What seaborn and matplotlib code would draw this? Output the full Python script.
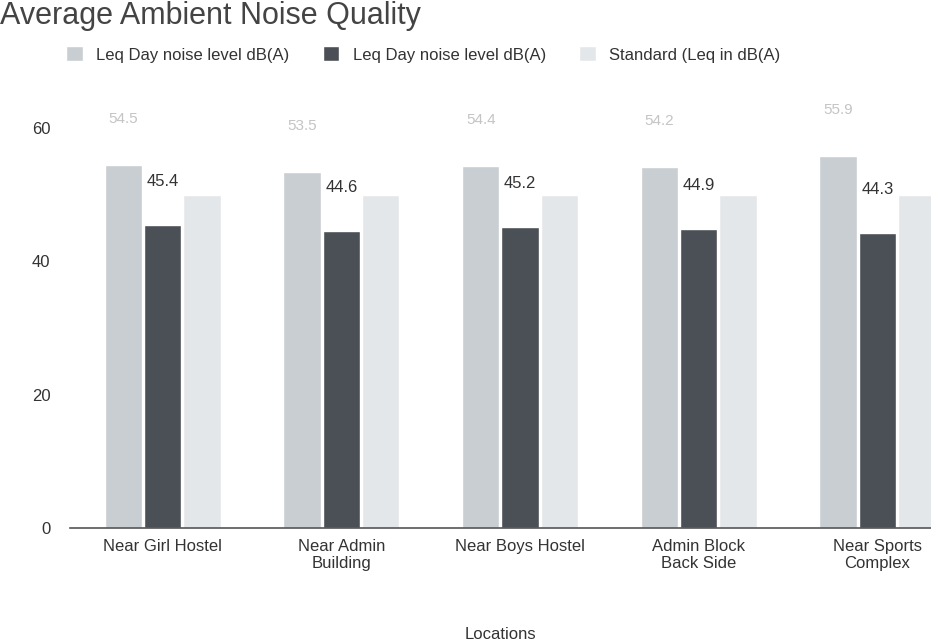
import matplotlib
matplotlib.use("Agg")
import matplotlib.pyplot as plt
import seaborn as sns
import pandas as pd

locations = ["Near Girl Hostel", "Near Admin\nBuilding", "Near Boys Hostel",
             "Admin Block\nBack Side", "Near Sports\nComplex"]
leq_day_a = [54.5, 53.5, 54.4, 54.2, 55.9]
leq_day_b = [45.4, 44.6, 45.2, 44.9, 44.3]
standard = [50, 50, 50, 50, 50]
series_keys = ["s1", "s2", "s3"]
legend_labels = ["Leq Day noise level dB(A)", "Leq Day noise level dB(A)", "Standard (Leq in dB(A)"]
colors = ["#c9ced2", "#4b5056", "#e4e7e9"]
y_ticks = [0, 20, 40, 60]

rows = []
for i, loc in enumerate(locations):
    rows.append((loc, series_keys[0], leq_day_a[i]))
    rows.append((loc, series_keys[1], leq_day_b[i]))
    rows.append((loc, series_keys[2], standard[i]))
df = pd.DataFrame(rows, columns=["Location", "Series", "Value"])

sns.set_theme(style="white")
plt.rcParams['font.family'] = ['Liberation Sans', 'DejaVu Sans']

fig = plt.figure(figsize=(9.31, 6.42), dpi=100)
ax = fig.add_axes([0.075, 0.178, 0.925, 0.674])

sns.barplot(data=df, x="Location", y="Value", hue="Series", hue_order=series_keys,
            palette=colors, width=0.66, gap=0.05, ax=ax, legend=True, saturation=1)

ax.set_ylim(0, 65)
ax.set_xlim(-0.52, 4.3)
ax.set_yticks(y_ticks)
ax.set_yticklabels([str(t) for t in y_ticks], fontsize=12, color="#333333")
ax.tick_params(axis="x", labelsize=12, colors="#333333", length=0, pad=8)
ax.tick_params(axis="y", length=0, pad=14)
for s in ["top", "right", "left"]:
    ax.spines[s].set_visible(False)
ax.spines["bottom"].set_color("#555555")
ax.spines["bottom"].set_linewidth(1.2)
ax.set_xlabel("Locations", fontsize=12, color="#333333", labelpad=40)
ax.set_ylabel("")

conts = ax.containers
ax.bar_label(conts[0], labels=[f"{v}" for v in leq_day_a], padding=28, fontsize=11, color="#c4c4c4")
ax.bar_label(conts[1], labels=[f"{v}" for v in leq_day_b], padding=26, fontsize=12, color="#333333")

handles, _ = ax.get_legend_handles_labels()
ax.get_legend().remove()
fig.legend(handles, legend_labels, loc="center left", bbox_to_anchor=(0.055, 0.915), ncol=3,
           frameon=False, fontsize=12, handlelength=1.0, handleheight=1.0, columnspacing=2.0,
           labelcolor="#333333")

fig.text(0.0, 0.975, "Average Ambient Noise Quality", fontsize=22, color="#444444",
         ha="left", va="center")

fig.savefig("out.png", dpi=100)
